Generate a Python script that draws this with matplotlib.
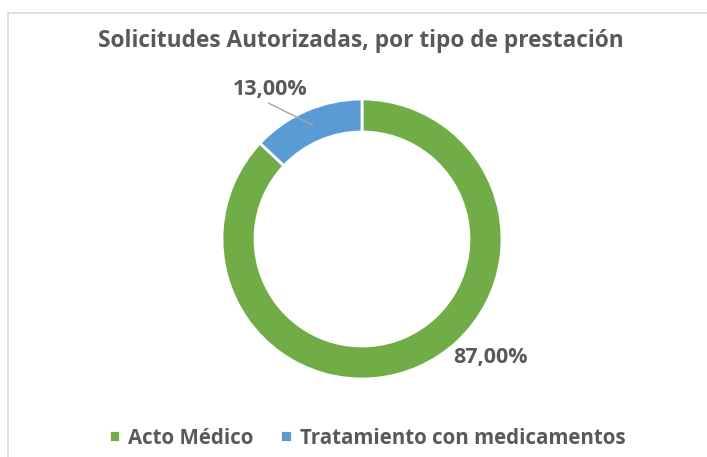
import numpy as np
import matplotlib
matplotlib.use('Agg')
import matplotlib.pyplot as plt
import matplotlib.patches as patches

# Data
categories = ['Acto Médico', 'Tratamiento con medicamentos']
values = [87.0, 13.0]
labels = ['87,00%', '13,00%']
colors = ['#70AD47', '#5B9BD5']
title = 'Solicitudes Autorizadas, por tipo de prestación'

W, H = 707, 457
text_color = '#595959'
font = ['Open Sans', 'DejaVu Sans']

fig = plt.figure(figsize=(W / 100, H / 100), dpi=100)
fig.patch.set_facecolor('white')
ax = fig.add_axes([0, 0, 1, 1])

# Donut
cx, cy, R = 362, H - 239, 140
wedges, _ = ax.pie(values, colors=colors, startangle=90, counterclock=False,
                   center=(cx, cy), radius=R,
                   wedgeprops=dict(width=33, edgecolor='white', linewidth=2))

# pie() resets limits, so set them afterwards
ax.set_xlim(0, W)
ax.set_ylim(0, H)
ax.set_aspect('equal')
ax.axis('off')

# Chart area border (left and top visible)
ax.add_patch(patches.Rectangle((7.5, -5), W, H - 12.5 + 5, fill=False,
                               edgecolor='#D9D9D9', linewidth=1.2))

# Title
ax.text(361, H - 41, title, ha='center', va='center', fontsize=16.3,
        fontweight='bold', color=text_color, family=font)

# Data labels
for w, lab in zip(wedges, labels):
    ang = np.deg2rad((w.theta1 + w.theta2) / 2)
    mx = cx + (R - 16) * np.cos(ang)
    my = cy + (R - 16) * np.sin(ang)
    if lab == '13,00%':
        ax.plot([mx, mx - 44], [my, my + 22], color='#A6A6A6', linewidth=1)
        ax.text(mx - 43, my + 36, lab, ha='center', va='center', fontsize=15.5,
                fontweight='bold', color=text_color, family=font)
    else:
        ax.text(491, H - 357, lab, ha='center', va='center', fontsize=15.5,
                fontweight='bold', color=text_color, family=font)

# Legend
leg = fig.legend(wedges, categories, loc='center', bbox_to_anchor=(367 / W, 1 - 438 / H),
                 ncol=2, frameon=False, handlelength=0.55, handleheight=0.55,
                 handletextpad=0.4, columnspacing=1.3,
                 prop=dict(family=font, weight='bold', size=14.8))
for t in leg.get_texts():
    t.set_color(text_color)

fig.savefig('out.png', dpi=100, facecolor='white')
